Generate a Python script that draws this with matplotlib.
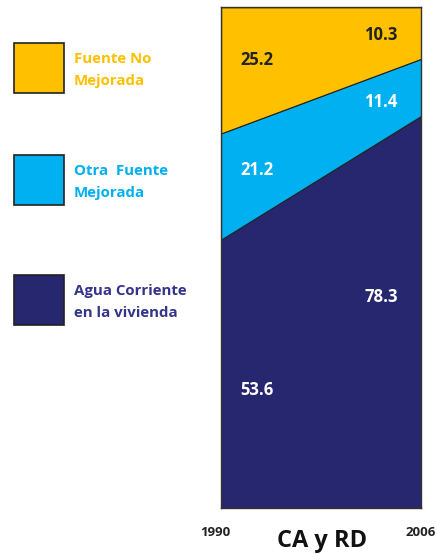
import matplotlib.pyplot as plt
from matplotlib.patches import Rectangle

# Datos: acceso a agua en CA y RD (%)
anios = [1990, 2006]
agua_corriente = [53.6, 78.3]
otra_mejorada = [21.2, 11.4]
no_mejorada = [25.2, 10.3]
series = ['Agua Corriente\nen la vivienda', 'Otra  Fuente\nMejorada', 'Fuente No\nMejorada']
colores = ['#27276f', '#00b0f0', '#ffc000']

plt.rcParams['font.family'] = ['Open Sans', 'DejaVu Sans']
plt.rcParams['font.weight'] = 'bold'

fig = plt.figure(figsize=(4.36, 5.54), dpi=100)
ax = fig.add_axes([0.507, 0.083, 0.459, 0.904])

ax.stackplot(anios, agua_corriente, otra_mejorada, no_mejorada,
             colors=colores, edgecolor='#222222', linewidth=0.8)
ax.set_xlim(anios[0], anios[-1])
ax.set_ylim(0, 100)
ax.set_xticks([])
ax.set_yticks([])
for s in ax.spines.values():
    s.set_color('#333333')
    s.set_linewidth(1)

# Etiquetas de valores
def etiqueta(xf, y, txt, color):
    ax.text(xf, y, txt, transform=ax.get_yaxis_transform(), color=color,
            fontsize=12, fontweight='bold', ha='center', va='center')

etiqueta(0.18, 89.4, f'{no_mejorada[0]}', '#222222')
etiqueta(0.80, 94.4, f'{no_mejorada[1]}', '#222222')
etiqueta(0.18, 67.5, f'{otra_mejorada[0]}', 'white')
etiqueta(0.80, 81.0, f'{otra_mejorada[1]}', 'white')
etiqueta(0.80, 42.1, f'{agua_corriente[1]}', 'white')
etiqueta(0.18, 23.5, f'{agua_corriente[0]}', 'white')

# Leyenda a mano
W, H = 436, 554
cajas_y = [275, 155, 43]
for nombre, col, y0 in zip(series, colores, cajas_y):
    fig.patches.append(Rectangle((14 / W, 1 - (y0 + 50) / H), 50 / W, 50 / H,
                                 transform=fig.transFigure, facecolor=col,
                                 edgecolor='#222222', linewidth=1.2))
    tcol = '#34348a' if col == colores[0] else col
    fig.text(74 / W, 1 - (y0 + 27) / H, nombre, color=tcol, fontsize=10.8,
             fontweight='bold', va='center', ha='left', linespacing=1.75)

# Textos inferiores
fig.text(215 / W, 1 - 533 / H, str(anios[0]), fontsize=9.5, fontweight='bold',
         ha='center', va='center', color='#222222')
fig.text(421 / W, 1 - 533 / H, str(anios[1]), fontsize=9.5, fontweight='bold',
         ha='center', va='center', color='#222222')
fig.text(322 / W, 1 - 541 / H, 'CA y RD', fontsize=17, fontweight='bold',
         ha='center', va='center', color='#111111')

plt.savefig('out.png', dpi=100)
